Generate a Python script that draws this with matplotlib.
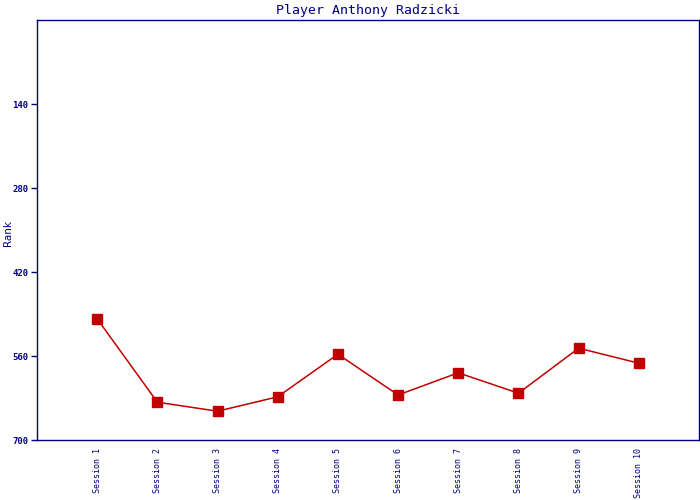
import matplotlib.pyplot as plt

sessions = ["Session %d" % i for i in range(1, 11)]
ranks = [498, 637, 652, 628, 557, 625, 588, 622, 547, 572]
y_ticks = [140, 280, 420, 560, 700]

navy = "#000080"
red = "#C00000"
mono = ["DejaVu Sans Mono"]

fig = plt.figure(figsize=(7, 5), dpi=100)
ax = fig.add_axes([37 / 700, 60 / 500, 662 / 700, 420 / 500])

x = list(range(1, len(ranks) + 1))
ax.plot(x, ranks, color=red, linewidth=1.1, marker="s", markersize=7, zorder=3)

ax.set_xlim(0, len(ranks) + 1)
ax.set_ylim(700, 0)
ax.set_yticks(y_ticks)
ax.set_yticklabels([str(t) for t in y_ticks], fontsize=6.5, fontweight="bold",
                   family=mono, color=navy)
ax.set_xticks(x)
ax.set_xticklabels(sessions, rotation=90, fontsize=6, family=mono, color=navy,
                   va="top")
ax.tick_params(axis="x", length=0, pad=6)
ax.tick_params(axis="y", length=4, width=1, color=navy, pad=2, direction="out")

for s in ax.spines.values():
    s.set_color(navy)
    s.set_linewidth(1)

fig.text(8 / 700, 1 - 233 / 500, "Rank", rotation=90, fontsize=7.5, color=navy,
         ha="center", va="center")
ax.set_title("Player Anthony Radzicki", fontsize=9.5, family=mono, color=navy, pad=4)

fig.savefig("out.png", dpi=100)
plt.close()
